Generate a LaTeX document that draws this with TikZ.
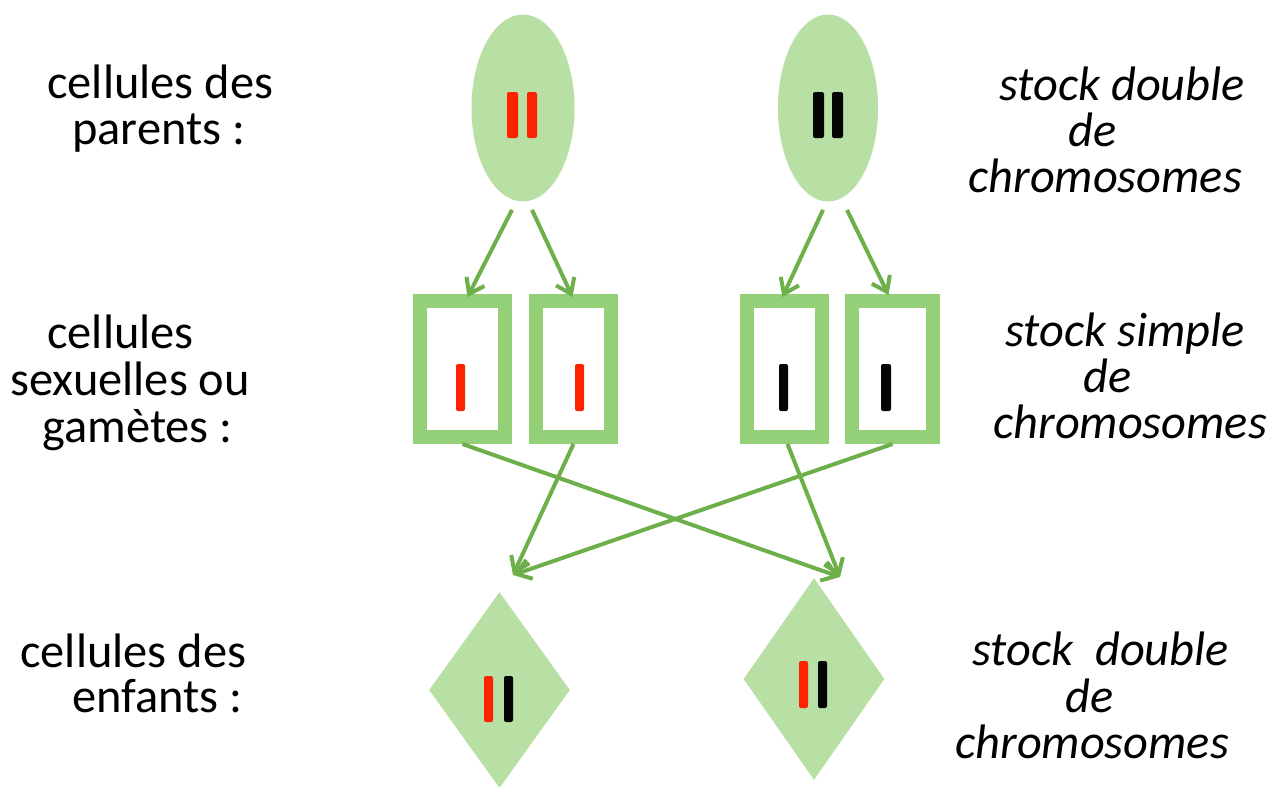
\documentclass[tikz,border=0pt]{standalone}
\usepackage{fontspec}
\setmainfont{Carlito}
\usetikzlibrary{shapes.geometric,arrows.meta,calc}

\definecolor{cellfill}{HTML}{B8DFA4}
\definecolor{boxline}{HTML}{94D077}
\definecolor{arrowgreen}{HTML}{6DAF4A}
\definecolor{chromred}{HTML}{FF2200}
\definecolor{chromblack}{HTML}{050505}

\begin{document}
\begin{tikzpicture}[x=0.5pt,y=-0.5pt,
  label/.style={anchor=base west,inner sep=0pt,font=\fontsize{24.2}{28}\selectfont},
  stocklabel/.style={label,font=\fontsize{24.2}{28}\selectfont\itshape},
  parentcell/.style={ellipse,fill=cellfill,inner sep=0pt,minimum height=93.5pt},
  gamete/.style={rectangle,draw=boxline,line width=7pt,inner sep=0pt,
                 minimum width=42.5pt,minimum height=68pt},
  childcell/.style={diamond,fill=cellfill,inner sep=0pt,aspect=0.72,
                    minimum width=70.5pt,minimum height=98pt},
  arr/.style={draw=arrowgreen,line width=2pt,
              -{Straight Barb[length=7pt,width=10pt,line width=2pt]}},
  chrom/.style={rounded corners=1pt}
]
\useasboundingbox (0,0) rectangle (1282,787);

% ---- cells ----
\node[parentcell,minimum width=51.5pt] (e1) at (523,108) {};
\node[parentcell,minimum width=50pt]   (e2) at (828,108) {};

\node[gamete] (b1) at (462.5,369) {};
\node[gamete,minimum width=37.5pt] (b2) at (573.5,369) {};
\node[gamete,minimum width=37.5pt] (b3) at (784.5,369) {};
\node[gamete,minimum width=40.5pt] (b4) at (892.5,369) {};

\node[childcell] (d1) at (499.5,690) {};
\node[childcell,minimum height=101pt] (d2) at (814,679) {};

% ---- chromosomes ----
\fill[chromred,chrom]   (507,92) rectangle (518,138);
\fill[chromred,chrom]   (527,92) rectangle (537,138);
\fill[chromblack,chrom] (813,92) rectangle (824,138);
\fill[chromblack,chrom] (832,92) rectangle (843,138);

\fill[chromred,chrom]   (456,364) rectangle (465,411);
\fill[chromred,chrom]   (575,364) rectangle (584,411);
\fill[chromblack,chrom] (779,364) rectangle (788,411);
\fill[chromblack,chrom] (881,364) rectangle (891,411);

\fill[chromred,chrom]   (484,676) rectangle (493,722);
\fill[chromblack,chrom] (504,676) rectangle (513,722);
\fill[chromred,chrom]   (799,661) rectangle (808,708);
\fill[chromblack,chrom] (818,661) rectangle (827,708);

% ---- arrows: parents to gametes ----
\draw[arr] ($(e1.south)+(-11,8)$) -- ($(b1.north)+(5,3)$);
\draw[arr] ($(e1.south)+(9,8)$)   -- ($(b2.north)+(-1,3)$);
\draw[arr] ($(e2.south)+(-5,8)$)  -- ($(b3.north)+(-2,3)$);
\draw[arr] ($(e2.south)+(19,8)$)  -- ($(b4.north)+(-4,1)$);

% ---- arrows: gametes to children ----
\coordinate (inL) at (513,575);
\coordinate (inR) at (840,577);
\draw[arr] (b1.south) -- (inR);
\draw[arr] (b2.south) -- (inL);
\draw[arr] ($(b3.south)+(3,0)$) -- (inR);
\draw[arr] (b4.south) -- (inL);

% ---- left captions ----
\node[label] (p1) at (47,98)  {cellules des};
\node[label] (p2) at (72,144) {parents :};

\node[label] (g1) at (47,348) {cellules};
\node[label] (g2) at (10,395) {sexuelles ou};
\node[label] (g3) at (42,442) {gamètes :};

\node[label] (c1) at (20,667) {cellules des};
\node[label] (c2) at (72,712) {enfants :};

% ---- right captions ----
\node[stocklabel] (r1a) at (999,100)  {stock double};
\node[stocklabel] (r1b) at (1068,146) {de};
\node[stocklabel] (r1c) at (968,192)  {chromosomes};

\node[stocklabel] (r2a) at (1005,346) {stock simple};
\node[stocklabel] (r2b) at (1083,392) {de};
\node[stocklabel] (r2c) at (993,438)  {chromosomes};

\node[stocklabel] (r3a) at (972,665)  {stock\ \ double};
\node[stocklabel] (r3b) at (1065,712) {de};
\node[stocklabel] (r3c) at (955,758)  {chromosomes};
\end{tikzpicture}
\end{document}
